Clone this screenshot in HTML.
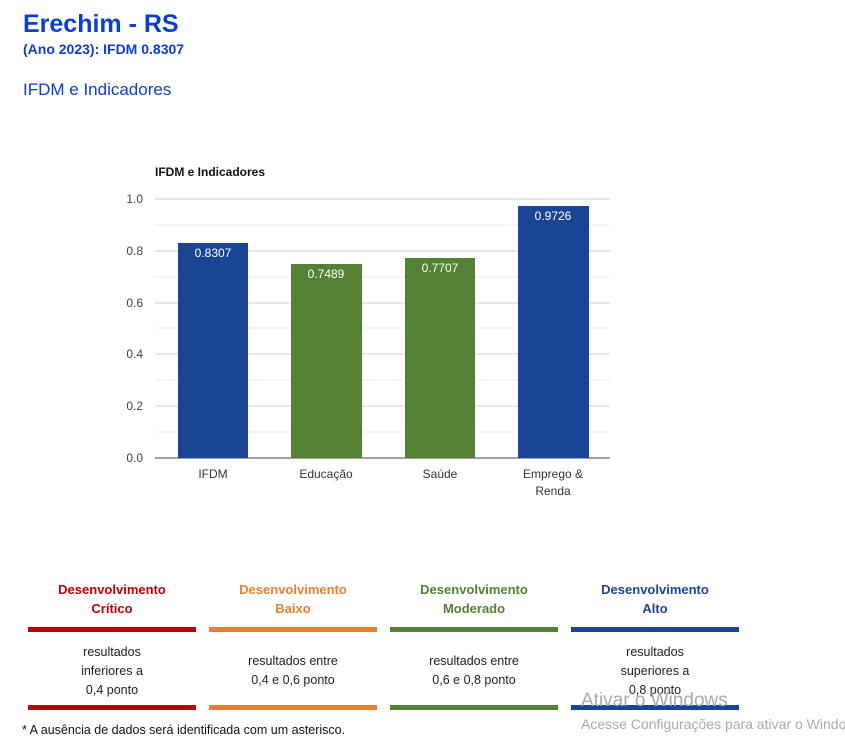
<!DOCTYPE html>
<html><head><meta charset="utf-8"><style>
body{margin:0;width:845px;height:752px;background:#fff;font-family:"Liberation Sans",sans-serif;position:relative;overflow:hidden}
.a{position:absolute}
.h{color:#0a3fd0;font-weight:bold}
.col{position:absolute;width:168px;text-align:center;font-size:13px}
.t{top:580px;line-height:19px;font-weight:bold}
.d{top:643px;line-height:19px;color:#222;font-size:12.5px}
.bar{position:absolute;width:168px;height:5px}
</style></head><body>
<div class="a h" style="left:23px;top:10px;font-size:25px">Erechim - RS</div>
<div class="a h" style="left:23px;top:41px;font-size:14px">(Ano 2023): IFDM 0.8307</div>
<div class="a h" style="left:23px;top:80px;font-size:17px;font-weight:normal;color:#0a3fd0">IFDM e Indicadores</div>
<svg class="a" style="left:0;top:0" width="845" height="560" font-family="Liberation Sans, sans-serif">
<text x="155" y="176" font-size="12" font-weight="bold" fill="#111">IFDM e Indicadores</text>
<g stroke="#ebebeb"><line x1="155" x2="610" y1="225" y2="225"/><line x1="155" x2="610" y1="277" y2="277"/><line x1="155" x2="610" y1="328" y2="328"/><line x1="155" x2="610" y1="380" y2="380"/><line x1="155" x2="610" y1="432" y2="432"/></g>
<g stroke="#cccccc"><line x1="155" x2="610" y1="199" y2="199"/><line x1="155" x2="610" y1="251" y2="251"/><line x1="155" x2="610" y1="303" y2="303"/><line x1="155" x2="610" y1="354" y2="354"/><line x1="155" x2="610" y1="406" y2="406"/></g>
<line x1="155" x2="610" y1="458" y2="458" stroke="#444"/>
<g font-size="12" fill="#444" text-anchor="end"><text x="143" y="203">1.0</text><text x="143" y="255">0.8</text><text x="143" y="307">0.6</text><text x="143" y="358">0.4</text><text x="143" y="410">0.2</text><text x="143" y="462">0.0</text></g>
<rect x="178" y="243" width="70" height="215" fill="#1a4597"/>
<rect x="291" y="264" width="71" height="194" fill="#548235"/>
<rect x="405" y="258" width="70" height="200" fill="#548235"/>
<rect x="518" y="206" width="71" height="252" fill="#1a4597"/>
<g font-size="12" fill="#fff" text-anchor="middle"><text x="213" y="257">0.8307</text><text x="326" y="278">0.7489</text><text x="440" y="272">0.7707</text><text x="553" y="220">0.9726</text></g>
<g font-size="12" fill="#333" text-anchor="middle"><text x="213" y="478">IFDM</text><text x="326" y="478">Educação</text><text x="440" y="478">Saúde</text><text x="553" y="478">Emprego &amp;</text><text x="553" y="495">Renda</text></g>
</svg>
<div class="col t" style="left:28px;color:#c00000">Desenvolvimento<br>Crítico</div>
<div class="col t" style="left:209px;color:#ed7d31">Desenvolvimento<br>Baixo</div>
<div class="col t" style="left:390px;color:#548235">Desenvolvimento<br>Moderado</div>
<div class="col t" style="left:571px;color:#1a4597">Desenvolvimento<br>Alto</div>
<div class="bar" style="left:28px;top:627px;background:#c00000"></div>
<div class="bar" style="left:209px;top:627px;background:#ed7d31"></div>
<div class="bar" style="left:390px;top:627px;background:#548235"></div>
<div class="bar" style="left:571px;top:627px;background:#1a4597"></div>
<div class="col d" style="left:28px">resultados<br>inferiores a<br>0,4 ponto</div>
<div class="col d" style="left:209px;top:652px">resultados entre<br>0,4 e 0,6 ponto</div>
<div class="col d" style="left:390px;top:652px">resultados entre<br>0,6 e 0,8 ponto</div>
<div class="col d" style="left:571px">resultados<br>superiores a<br>0,8 ponto</div>
<div class="bar" style="left:28px;top:705px;background:#c00000"></div>
<div class="bar" style="left:209px;top:705px;background:#ed7d31"></div>
<div class="bar" style="left:390px;top:705px;background:#548235"></div>
<div class="bar" style="left:571px;top:705px;background:#1a4597"></div>
<div class="a" style="left:22px;top:723px;font-size:12.5px;color:#111">* A ausência de dados será identificada com um asterisco.</div>
<div class="a" style="left:581px;top:690px;font-size:19px;color:#aaa">Ativar o Windows</div>
<div class="a" style="left:581px;top:716px;font-size:14px;color:#aaa;white-space:nowrap">Acesse Configurações para ativar o Windows.</div>
</body></html>
